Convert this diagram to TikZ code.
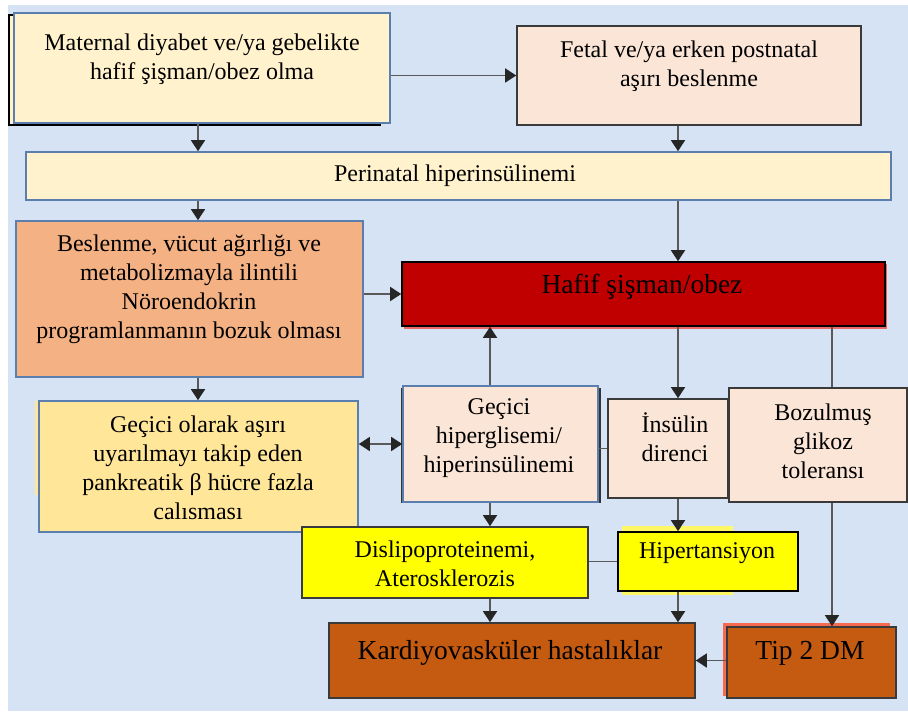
\documentclass[tikz,border=0pt]{standalone}
\usepackage{fontspec}
\setmainfont{Liberation Serif}
\usetikzlibrary{positioning, arrows.meta}
\definecolor{bgblue}{HTML}{D5E3F4}
\definecolor{cream}{HTML}{FFF2CC}
\definecolor{peach}{HTML}{FBE5D6}
\definecolor{apricot}{HTML}{F4B183}
\definecolor{gold}{HTML}{FFE699}
\definecolor{darkred}{HTML}{C00000}
\definecolor{brightyellow}{HTML}{FFFF00}
\definecolor{rust}{HTML}{C55A11}
\definecolor{edgeblue}{HTML}{5A7FAE}
\definecolor{edgedark}{HTML}{3A3A3A}
\definecolor{linegray}{HTML}{595959}
\tikzset{
    box/.style={rectangle, line width=0.8pt, inner sep=0pt}, % every coloured frame
    txt/.style={align=center, inner sep=0pt, font=\fontsize{12}{14.5}\selectfont}, % text set into a frame
    big/.style={font=\fontsize{13.75}{16}\selectfont}, % the larger titles
    tip/.style={Triangle[length=5.5pt, width=7pt, color=black!85]}, % the dark arrow head
    conn/.style={draw=linegray, line width=0.75pt, -{Triangle[length=5.5pt, width=7pt, color=black!85]}}, % directed link
    both/.style={draw=linegray, line width=0.75pt, {Triangle[length=5.5pt, width=7pt, color=black!85]}-{Triangle[length=5.5pt, width=7pt, color=black!85]}}, % two-way link
    link/.style={draw=linegray, line width=0.75pt}, % plain link
}
\begin{document}
\begin{tikzpicture}[x=0.5pt, y=-0.5pt]
    \useasboundingbox (0,0) rectangle (908,711);
    \fill[bgblue] (8,5) rectangle (908,711);
    % shadows behind some frames
    \draw[fill=cream, draw=black, line width=0.8pt] (9,15) rectangle (380,125);
    \fill[gold] (35,401) rectangle (40,495);
    \fill[black!80] (401,388) rectangle (601,503);
    \fill[red!55!darkred!60] (404,264) rectangle (887,329);
    \fill[yellow!60] (622,526) rectangle (733,595);
    \fill[red!40!apricot] (723,623) rectangle (890,696);
    \coordinate (c1) at (198,0);
    \coordinate (c2) at (678,0);
    \coordinate (c3) at (490,0);
    \coordinate (c4) at (832,0);
    % frames
    \node[box, fill=cream, draw=edgeblue, minimum width=188pt, minimum height=55pt] (mat) at (202,68) {};
    \node[box, fill=peach, draw=edgedark, minimum width=172pt, minimum height=49.5pt] (fet) at (689,75.5) {};
    \node[box, fill=cream, draw=edgeblue, minimum width=432.5pt, minimum height=24pt] (peri) at (458.5,176) {};
    \node[box, fill=apricot, draw=edgeblue, minimum width=173.5pt, minimum height=78pt] (besl) at (189.5,299) {};
    \node[box, fill=darkred, draw=black, minimum width=241.5pt, minimum height=32pt] (obez) at (643.5,294) {};
    \node[box, fill=gold, draw=edgeblue, minimum width=159.5pt, minimum height=65.5pt] (beta) at (198.5,466.5) {};
    \node[box, fill=peach, draw=edgeblue, minimum width=97.5pt, minimum height=58pt] (hipgl) at (500.5,444) {};
    \node[box, fill=peach, draw=edgedark, minimum width=60pt, minimum height=49.5pt] (ins) at (668,448.5) {};
    \node[box, fill=peach, draw=edgedark, minimum width=89pt, minimum height=57pt] (bgt) at (818,445) {};
    \node[box, fill=brightyellow, draw=edgedark, minimum width=143pt, minimum height=35.5pt] (dis) at (445,562.5) {};
    \node[box, fill=brightyellow, draw=black, minimum width=90pt, minimum height=29.5pt] (hip) at (708,561.5) {};
    \node[box, fill=rust, draw=edgedark, minimum width=183pt, minimum height=37.5pt] (kvh) at (512,660.5) {};
    \node[box, fill=rust, draw=edgedark, minimum width=84.5pt, minimum height=35.5pt] (dm) at (811.5,662.5) {};
    % texts
    \node[txt] (mat-t) at (202,59) {Maternal diyabet ve/ya gebelikte\\hafif şişman/obez olma};
    \node[txt] (fet-t) at (689,66) {Fetal ve/ya erken postnatal\\aşırı beslenme};
    \node[txt] (peri-t) at (455,176) {Perinatal hiperinsülinemi};
    \node[txt] (besl-t) at (189,289) {Beslenme, vücut ağırlığı ve\\metabolizmayla ilintili\\Nöroendokrin\\programlanmanın bozuk olması};
    \node[txt, big] (obez-t) at (642,287) {Hafif şişman/obez};
    \node[txt] (beta-t) at (198,468) {Geçici olarak aşırı\\uyarılmayı takip eden\\pankreatik β hücre fazla\\calısması};
    \node[txt] (hipgl-t) at (499,438) {Geçici\\hiperglisemi/\\hiperinsülinemi};
    \node[txt] (ins-t) at (675,437) {İnsülin\\direnci};
    \node[txt] (bgt-t) at (823,441) {Bozulmuş\\glikoz\\toleransı};
    \node[txt] (dis-t) at (445,564) {Dislipoproteinemi,\\Aterosklerozis};
    \node[txt] (hip-t) at (707,553) {Hipertansiyon};
    \node[txt, big] (kvh-t) at (510,653) {Kardiyovasküler hastalıklar};
    \node[txt, big] (dm-t) at (810,653) {Tip 2 DM};
    % links
    \draw[conn] (mat.east |- fet.west) -- (fet.west);
    \draw[conn] (mat.south -| c1) -- (peri.north -| c1);
    \draw[conn] (fet.south -| c2) -- (peri.north -| c2);
    \draw[conn] (peri.south -| c1) -- (besl.north -| c1);
    \draw[conn] (peri.south -| c2) -- (obez.north -| c2);
    \draw[conn] (besl.east |- obez.west) -- (obez.west);
    \draw[conn] (besl.south -| c1) -- (beta.north -| c1);
    \draw[both] (beta.east |- hipgl.west) -- (hipgl.west);
    \draw[conn] (hipgl.north -| c3) -- (obez.south -| c3);
    \draw[link] (hipgl.east |- ins.west) -- (ins.west);
    \draw[conn] (obez.south -| c2) -- (ins.north -| c2);
    \draw[link] (obez.south -| c4) -- (bgt.north -| c4);
    \draw[conn] (hipgl.south -| c3) -- (dis.north -| c3);
    \draw[conn] (ins.south -| c2) -- (hip.north -| c2);
    \draw[link] (dis.east |- hip.west) -- (hip.west);
    \draw[conn] (dis.south -| c3) -- (kvh.north -| c3);
    \draw[conn] (hip.south -| c2) -- (kvh.north -| c2);
    \draw[conn] (bgt.south -| c4) -- (dm.north -| c4);
    \draw[conn] (dm.west |- kvh.east) -- (kvh.east);
\end{tikzpicture}
\end{document}
